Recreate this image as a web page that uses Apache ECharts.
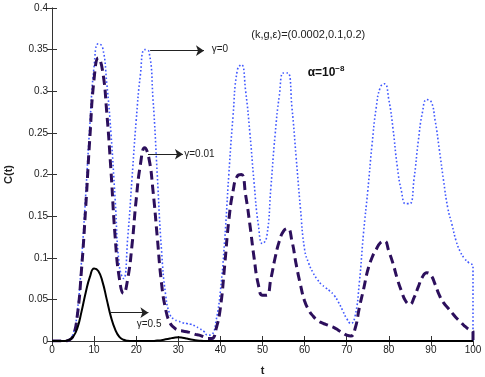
<!DOCTYPE html>
<html><head><meta charset="utf-8">
<script src="https://cdn.jsdelivr.net/npm/echarts@6/dist/echarts.min.js"></script>
<style>html,body{margin:0;padding:0;background:#fff}#c{width:485px;height:377px}</style>
</head><body><div id="c"></div>
<script>
// time axis samples (the last repeated 100 closes the curves down to zero)
const tValues = [0,1,2,3,4,5,6,7,8,9,10,11,12,13,14,15,16,17,18,19,20,21,22,23,24,25,26,27,28,29,30,31,32,33,34,35,36,37,38,39,40,41,42,43,44,45,46,47,48,49,50,51,52,53,54,55,56,57,58,59,60,61,62,63,64,65,66,67,68,69,70,71,72,73,74,75,76,77,78,79,80,81,82,83,84,85,86,87,88,89,90,91,92,93,94,95,96,97,98,99,100,100];

// gamma = 0 (dotted blue)
const gamma0 = [0,0,0,0,0.001,0.008,0.035,0.095,0.175,0.26,0.33,0.357,0.353,0.31,0.25,0.17,0.09,0.075,0.125,0.195,
0.265,0.32,0.35,0.348,0.29,0.2,0.11,0.055,0.032,0.026,0.024,0.022,0.021,0.02,0.018,0.015,0.012,0.007,0.008,0.025,
0.06,0.12,0.2,0.27,0.325,0.332,0.3,0.25,0.19,0.14,0.117,0.125,0.185,0.248,0.295,0.322,0.322,0.28,0.22,0.16,
0.11,0.093,0.082,0.074,0.068,0.064,0.06,0.055,0.047,0.037,0.027,0.021,0.03,0.07,0.13,0.18,0.235,0.28,0.305,0.309,
0.29,0.255,0.21,0.18,0.165,0.165,0.195,0.24,0.275,0.29,0.288,0.265,0.23,0.193,0.16,0.14,0.12,0.107,0.099,0.094,
0.09,0];

// gamma = 0.01 (dashed dark)
const gamma001 = [0,0,0,0,0.001,0.006,0.03,0.085,0.16,0.245,0.315,0.34,0.325,0.275,0.205,0.125,0.075,0.057,0.075,0.115,
0.17,0.212,0.232,0.22,0.18,0.125,0.07,0.038,0.022,0.016,0.013,0.012,0.011,0.01,0.008,0.007,0.005,0.003,0.003,0.015,
0.04,0.09,0.145,0.18,0.198,0.2,0.175,0.14,0.1,0.068,0.055,0.055,0.075,0.1,0.12,0.132,0.135,0.12,0.092,0.068,
0.048,0.037,0.03,0.025,0.022,0.02,0.018,0.016,0.013,0.01,0.007,0.006,0.015,0.04,0.062,0.085,0.1,0.11,0.118,0.12,
0.108,0.093,0.075,0.06,0.048,0.044,0.052,0.065,0.077,0.082,0.079,0.068,0.055,0.046,0.04,0.034,0.028,0.023,0.018,0.014,
0.011,0];

// gamma = 0.5 (solid black)
const gamma05 = [0,0,0,0,0.001,0.005,0.015,0.035,0.058,0.077,0.087,0.084,0.071,0.05,0.029,0.014,0.005,0.0015,0.0003,0,
0,0,0,0,0,0.0005,0.001,0.002,0.003,0.004,0.0045,0.004,0.003,0.0018,0.001,0.0004,0,0,0,0,
0,0,0,0,0,0,0,0,0,0,0,0,0,0,0,0,0,0,0,0,
0,0,0,0,0,0,0,0,0,0,0,0,0,0,0,0,0,0,0,0,
0,0,0,0,0,0,0,0,0,0,0,0,0,0,0,0,0,0,0,0,
0,0];

const xTicks = [0,10,20,30,40,50,60,70,80,90,100];
const yTicks = [0,0.05,0.1,0.15,0.2,0.25,0.3,0.35,0.4];

const pairs = arr => tValues.map((t, i) => [t, arr[i]]);
const FONT = 'Liberation Sans, Arial, Helvetica, sans-serif';

const chart = echarts.init(document.getElementById('c'), null, {renderer: 'canvas'});

const tickCommon = {show: true, inside: true, length: 5, lineStyle: {color: '#333', width: 1}};
const lineCommon = {show: true, lineStyle: {color: '#333', width: 1}};

function annText(coord, text, style) {
  return {
    coord: coord, symbol: 'rect', symbolSize: 1,
    itemStyle: {color: 'rgba(255,255,255,0)'},
    label: Object.assign({show: true, position: 'right', distance: 0,
      formatter: text, fontFamily: FONT, fontSize: 11, color: '#222'}, style || {})
  };
}

chart.setOption({
  animation: false,
  backgroundColor: '#fff',
  grid: {left: 52, right: 12, top: 8, bottom: 36, containLabel: false, outerBoundsMode: 'none'},
  xAxis: [{
    type: 'value', min: 0, max: 100, interval: 10, position: 'bottom',
    axisLine: {show: true, onZero: false, lineStyle: {color: '#222', width: 1}},
    axisTick: tickCommon,
    axisLabel: {fontFamily: FONT, fontSize: 10, color: '#222', margin: 4,
      formatter: v => xTicks.includes(v) ? String(v) : ''},
    splitLine: {show: false},
    name: 't', nameLocation: 'middle', nameGap: 24,
    nameTextStyle: {fontFamily: FONT, fontSize: 11, fontWeight: 'bold', color: '#222'}
  }, {
    type: 'value', min: 0, max: 100, interval: 10, position: 'top',
    axisLine: lineCommon, axisTick: tickCommon, axisLabel: {show: false}, splitLine: {show: false}
  }],
  yAxis: [{
    type: 'value', min: 0, max: 0.4, interval: 0.05, position: 'left',
    axisLine: {show: true, onZero: false, lineStyle: {color: '#777', width: 1}},
    axisTick: tickCommon,
    axisLabel: {fontFamily: FONT, fontSize: 10, color: '#222', margin: 4,
      formatter: v => { const m = yTicks.find(y => Math.abs(y - v) < 1e-9); return m === undefined ? '' : String(m); }},
    splitLine: {show: false},
    name: 'C(t)', nameLocation: 'middle', nameGap: 38, nameRotate: 90,
    nameTextStyle: {fontFamily: FONT, fontSize: 11, fontWeight: 'bold', color: '#222'}
  }, {
    type: 'value', min: 0, max: 0.4, interval: 0.05, position: 'right',
    axisLine: lineCommon, axisTick: tickCommon, axisLabel: {show: false}, splitLine: {show: false}
  }],
  series: [{
    name: 'γ=0', type: 'line', data: pairs(gamma0), smooth: 0.5, symbol: 'none', silent: true,
    lineStyle: {color: '#3f57ff', width: 1.6, type: [1.6, 2.2]}
  }, {
    name: 'γ=0.01', type: 'line', data: pairs(gamma001), smooth: 0.5, symbol: 'none', silent: true,
    lineStyle: {color: '#2c0f5c', width: 3, type: [9, 5]}
  }, {
    name: 'γ=0.5', type: 'line', data: pairs(gamma05), smooth: 0.5, symbol: 'none', silent: true,
    lineStyle: {color: '#000', width: 2},
    markLine: {
      silent: true, symbol: ['none', 'arrow'], symbolSize: 8,
      label: {show: false},
      lineStyle: {color: '#222', width: 1, type: 'solid'},
      emphasis: {disabled: true},
      data: [
        [{coord: [23.3, 0.3487]}, {coord: [36.1, 0.3487]}],
        [{coord: [22.8, 0.2243]}, {coord: [31.1, 0.2243]}],
        [{coord: [13.8, 0.034]}, {coord: [22.9, 0.034]}]
      ]
    },
    markPoint: {
      silent: true,
      emphasis: {disabled: true},
      data: [
        annText([37.8, 0.3505], 'γ=0', {fontSize: 10}),
        annText([31.3, 0.2243], 'γ=0.01', {fontSize: 10}),
        annText([20.0, 0.0204], 'γ=0.5', {fontSize: 10}),
        annText([47.2, 0.3676], '(k,g,ε)=(0.0002,0.1,0.2)', {fontSize: 11}),
        annText([60.6, 0.322], '{a|α=10}{b|−8}', {
          rich: {
            a: {fontFamily: FONT, fontSize: 12, fontWeight: 'bold', color: '#111'},
            b: {fontFamily: FONT, fontSize: 8, fontWeight: 'bold', color: '#111', verticalAlign: 'bottom', padding: [0, 0, 9, 0]}
          }
        })
      ]
    }
  }]
});
</script>
</body></html>
